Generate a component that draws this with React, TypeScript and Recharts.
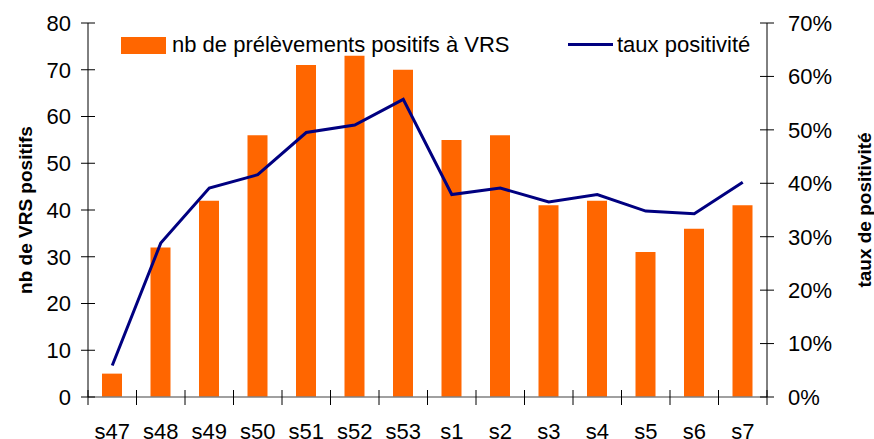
import React from 'react';
import { ComposedChart, Bar, Line, XAxis, YAxis, Legend } from 'recharts';

const CATEGORIES = ['s47', 's48', 's49', 's50', 's51', 's52', 's53', 's1', 's2', 's3', 's4', 's5', 's6', 's7'];
const POSITIVE_SAMPLES = [5, 32, 42, 56, 71, 73, 70, 55, 56, 41, 42, 31, 36, 41];
const POSITIVITY_RATE = [0.059, 0.288, 0.391, 0.416, 0.495, 0.509, 0.557, 0.379, 0.391, 0.365, 0.379, 0.348, 0.343, 0.402];
const LEFT_TICKS = [0, 10, 20, 30, 40, 50, 60, 70, 80];
const RIGHT_TICKS = [0, 0.1, 0.2, 0.3, 0.4, 0.5, 0.6, 0.7];

const BAR_NAME = 'nb de prélèvements positifs à VRS';
const LINE_NAME = 'taux positivité';
const LEFT_TITLE = 'nb de VRS positifs';
const RIGHT_TITLE = 'taux de positivité';

const data = CATEGORIES.map((c, i) => ({
  week: c,
  count: POSITIVE_SAMPLES[i],
  rate: POSITIVITY_RATE[i],
}));

const FONT = '"Liberation Sans", Arial, sans-serif';
const ORANGE = '#FF6600';
const NAVY = '#000080';
const FS = 22;

const LeftTick = (props: any) => {
  const { x, y, payload } = props;
  return (
    <g>
      <line x1={x + 10} x2={x + 24} y1={y} y2={y} stroke="#000" strokeWidth={1} />
      <text x={x} y={y} dy="0.355em" textAnchor="end" fontFamily={FONT} fontSize={FS} fill="#000">
        {payload.value}
      </text>
    </g>
  );
};

const RightTick = (props: any) => {
  const { x, y, payload } = props;
  return (
    <g>
      <line x1={x - 28} x2={x - 14} y1={y} y2={y} stroke="#000" strokeWidth={1} />
      <text x={x} y={y} dy="0.355em" textAnchor="start" fontFamily={FONT} fontSize={FS} fill="#000">
        {`${Math.round(payload.value * 100)}%`}
      </text>
    </g>
  );
};

const XTick = (props: any) => {
  const { x, y, payload, index } = props;
  const half = payload && payload.offset ? payload.offset : 679 / 28;
  const axisY = y - 26;
  return (
    <g>
      <line x1={x - half} x2={x - half} y1={axisY - 7} y2={axisY + 8} stroke="#000" strokeWidth={1} />
      {index === CATEGORIES.length - 1 && (
        <line x1={x + half} x2={x + half} y1={axisY - 7} y2={axisY + 8} stroke="#000" strokeWidth={1} />
      )}
      <text x={x} y={y} dy="0.71em" textAnchor="middle" fontFamily={FONT} fontSize={FS} fill="#000">
        {payload.value}
      </text>
    </g>
  );
};

const AxisTitle = (props: any) => {
  const { cx, cy, text } = props;
  return (
    <text
      x={cx}
      y={cy}
      transform={`rotate(-90 ${cx} ${cy})`}
      textAnchor="middle"
      dominantBaseline="central"
      fontFamily={FONT}
      fontSize={19}
      fontWeight="bold"
      fill="#000"
    >
      {text}
    </text>
  );
};

const renderLegend = () => (
  <div style={{ position: 'relative', width: 874, height: 0, fontFamily: FONT, fontSize: FS, color: '#000' }}>
    <div style={{ position: 'absolute', left: 121, top: 37, width: 45, height: 17, background: ORANGE }} />
    <div style={{ position: 'absolute', left: 172, top: 33, whiteSpace: 'nowrap', lineHeight: '24px' }}>{BAR_NAME}</div>
    <div style={{ position: 'absolute', left: 568, top: 43, width: 45, height: 3, background: NAVY }} />
    <div style={{ position: 'absolute', left: 617, top: 33, whiteSpace: 'nowrap', lineHeight: '24px' }}>{LINE_NAME}</div>
  </div>
);

export default function App() {
  return (
    <div style={{ position: 'absolute', left: 0, top: 0, width: 874, height: 439, background: '#fff' }}>
      <ComposedChart width={874} height={439} data={data} margin={{ top: 23, right: 0, left: 0, bottom: 0 }}>
        <XAxis
          dataKey="week"
          xAxisId="x"
          height={42}
          interval={0}
          tickSize={0}
          tickMargin={26}
          tickLine={false}
          axisLine={{ stroke: '#808080', strokeWidth: 1.5 }}
          tick={<XTick />}
        />
        <YAxis
          yAxisId="left"
          orientation="left"
          width={88}
          domain={[0, 80]}
          ticks={LEFT_TICKS}
          interval={0}
          tickSize={0}
          tickMargin={17}
          tickLine={false}
          axisLine={{ stroke: '#000' }}
          tick={<LeftTick />}
          label={<AxisTitle cx={25} cy={210} text={LEFT_TITLE} />}
        />
        <YAxis
          yAxisId="right"
          orientation="right"
          width={107}
          domain={[0, 0.7]}
          ticks={RIGHT_TICKS}
          interval={0}
          tickSize={0}
          tickMargin={21}
          tickLine={false}
          axisLine={{ stroke: '#000' }}
          tick={<RightTick />}
          label={<AxisTitle cx={864} cy={210} text={RIGHT_TITLE} />}
        />
        <Legend content={renderLegend} verticalAlign="top" wrapperStyle={{ top: 0, left: 0, width: 874, height: 0 }} />
        <Bar
          xAxisId="x"
          yAxisId="left"
          dataKey="count"
          name={BAR_NAME}
          fill={ORANGE}
          barSize={20}
          isAnimationActive={false}
        />
        <Line
          xAxisId="x"
          yAxisId="right"
          dataKey="rate"
          name={LINE_NAME}
          type="linear"
          stroke={NAVY}
          strokeWidth={3}
          dot={false}
          activeDot={false}
          isAnimationActive={false}
        />
      </ComposedChart>
    </div>
  );
}
